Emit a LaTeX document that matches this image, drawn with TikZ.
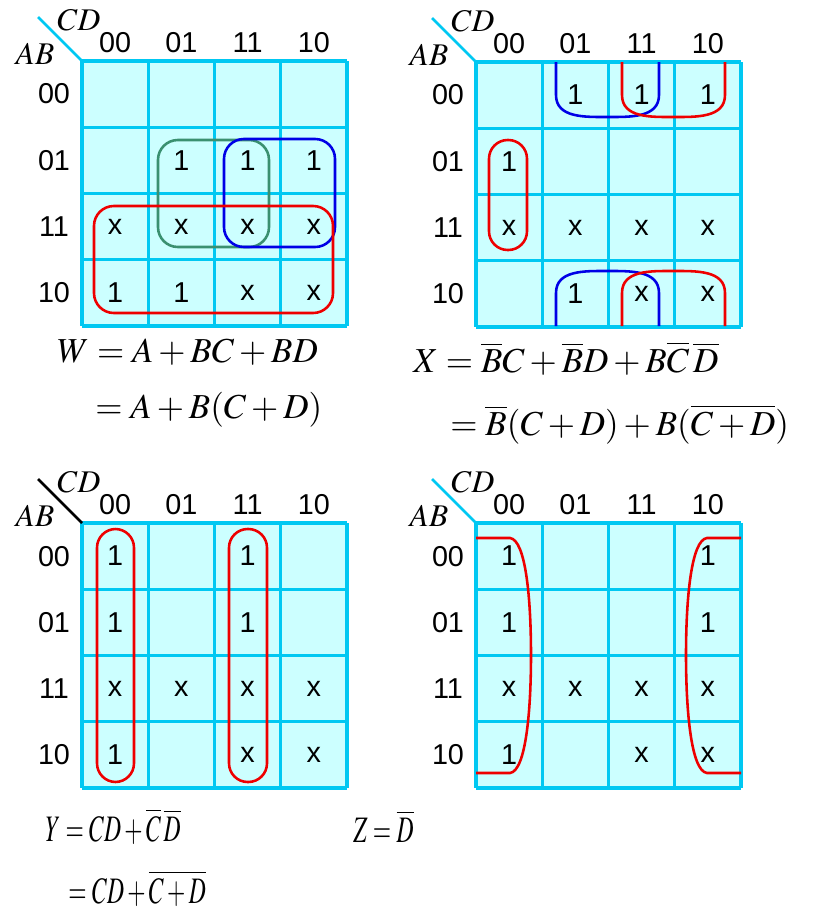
\documentclass[tikz,border=0pt]{standalone}
\usepackage{mathptmx}
\usepackage[no-math]{fontspec}
\setsansfont{Liberation Sans}
\usepackage{graphicx}
\definecolor{kgrid}{HTML}{00C8F2}
\definecolor{kfill}{HTML}{CCFFFF}
\definecolor{kred}{HTML}{EE0000}
\definecolor{kblue}{HTML}{0000E6}
\definecolor{kgreen}{HTML}{3A9070}
\newcommand{\narroweq}[1]{\scalebox{0.63}[1]{#1}}
% one Karnaugh map: name, corner x, corner y, diagonal colour, 16 entries
\newcommand{\kmap}[5]{%
  \begin{scope}[shift={(#2,#3)}]
    \fill[kfill] (0,0) rectangle (265,265);
    \foreach \i in {0,...,4} {
      \draw[gridline] (\i*66.25,0) -- (\i*66.25,265);
      \draw[gridline] (0,\i*66.25) -- (265,\i*66.25);
    }
    \coordinate (#1-o) at (0,0);
    \coordinate (#1-d) at (-44,-44);
    \draw[draw=#4, line width=1.2pt] (#1-o) -- (#1-d);
    \node[varlab] (#1-cd) at (-3,-41) {$CD$};
    \node[varlab] (#1-ab) at (-47,-7) {$AB$};
    \foreach \lab [count=\i from 0] in {00,01,11,10} {
      \node[digit] (#1-c\i) at (33.1+\i*66.25,-18.5) {\lab};
      \node[digit] (#1-r\i) at (-28,33.1+\i*66.25) {\lab};
    }
    \foreach \v [count=\k from 0] in {#5} {
      \pgfmathtruncatemacro\rr{floor(\k/4)}
      \pgfmathtruncatemacro\cc{mod(\k,4)}
      \node[digit] (#1-\k) at (33.1+\cc*66.25,33.1+\rr*66.25) {\v};
    }
  \end{scope}}

\begin{document}
\begin{tikzpicture}[
  x=0.4279pt,
  y=-0.4279pt,
  digit/.style={font=\sffamily\fontsize{12.3}{14}\selectfont, inner sep=0pt},
  varlab/.style={font=\fontsize{13.5}{15}\selectfont, inner sep=0pt},
  gridline/.style={draw=kgrid, line width=1.3pt},
  eqn/.style={font=\fontsize{15}{18}\selectfont, anchor=base west, inner sep=0pt},
  tall/.style={eqn, font=\fontsize{16}{18}\selectfont},
  group/.style={line width=1.1pt},
  box/.style={group, rounded corners=8.5pt},
  pill/.style={group, rounded corners=8pt}
]
\useasboundingbox (0,0) rectangle (818,912);

\kmap{w}{82}{61}{kgrid}{{},{},{},{},{},1,1,1,x,x,x,x,1,1,x,x}
\kmap{x}{476}{62}{kgrid}{{},1,1,1,1,{},{},{},x,x,x,x,{},1,x,x}
\kmap{y}{82}{523}{black}{1,{},1,{},1,{},1,{},x,x,x,x,1,{},x,x}
\kmap{z}{476}{523}{kgrid}{1,{},{},1,1,{},{},1,x,x,x,x,1,{},x,x}

% W
\draw[box, kgreen] (158,140) rectangle (269,247);
\draw[box, kblue] (224,139) rectangle (335,247);
\draw[box, kred] (94,206) rectangle (333,313);

% X
\draw[group, kblue] (556,62) -- (556,95) .. controls (556,118) and (585,117) .. (607,117)
  .. controls (630,117) and (659,118) .. (659,95) -- (659,62);
\draw[group, kred] (622,62) -- (622,95) .. controls (622,118) and (651,117) .. (673,117)
  .. controls (696,117) and (725,118) .. (725,95) -- (725,62);
\draw[group, kblue] (556,326) -- (556,293) .. controls (556,270) and (585,271) .. (607,271)
  .. controls (630,271) and (659,270) .. (659,293) -- (659,326);
\draw[group, kred] (622,326) -- (622,293) .. controls (622,270) and (651,271) .. (673,271)
  .. controls (696,271) and (725,270) .. (725,293) -- (725,326);
\draw[pill, kred] (489,140) rectangle (527,250);

% Y
\draw[pill, kred] (97,529) rectangle (134,782);
\draw[pill, kred] (229,529) rectangle (267,782);

% Z
\draw[group, kred] (476,538) -- (510,538) .. controls (526,540) and (531,600) .. (531,655)
  .. controls (531,710) and (526,771) .. (510,773) -- (476,773);
\draw[group, kred] (741,538) -- (707,538) .. controls (691,540) and (686,600) .. (686,655)
  .. controls (686,710) and (691,771) .. (707,773) -- (741,773);

\node[eqn] (w1) at (57,362) {$W = A + BC + BD$};
\node[eqn] (w2) at (95,418) {$= A + B(C + D)$};
\node[eqn] (x1) at (413,372) {$X = \overline{B}C + \overline{B}D + B\overline{C}\,\overline{D}$};
\node[eqn] (x2) at (450,435) {$= \overline{B}(C + D) + B(\overline{C + D})$};
\node[tall] (y1) at (45,841) {\narroweq{$Y = CD + \overline{C}\,\overline{D}$}};
\node[tall] (y2) at (68,903) {\narroweq{$= CD + \overline{C + D}$}};
\node[tall] (z1) at (353,842) {\narroweq{$Z = \overline{D}$}};
\end{tikzpicture}
\end{document}
